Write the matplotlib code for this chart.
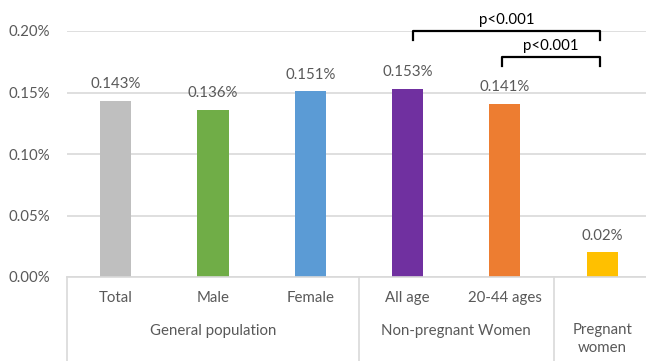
import matplotlib.pyplot as plt
import matplotlib.transforms as mtransforms

plt.rcParams['font.family'] = ['Lato', 'DejaVu Sans']

categories = ['Total', 'Male', 'Female', 'All age', '20-44 ages', '']
values = [0.143, 0.136, 0.151, 0.153, 0.141, 0.02]
labels = ['0.143%', '0.136%', '0.151%', '0.153%', '0.141%', '0.02%']
colors = ['#BFBFBF', '#70AD47', '#5B9BD5', '#7030A0', '#ED7D31', '#FFC000']
groups = ['General population', 'Non-pregnant Women', 'Pregnant\nwomen']
group_spans = [(0, 2), (3, 4), (5, 5)]
yticks = [0.0, 0.05, 0.10, 0.15, 0.20]
ytick_labels = ['0.00%', '0.05%', '0.10%', '0.15%', '0.20%']

txt = '#595959'
grid = '#D9D9D9'
fs = 10.8

fig = plt.figure(figsize=(6.46, 3.61), dpi=100)
ax = fig.add_axes([67 / 646, 84 / 361, 579 / 646, 246 / 361])

x = list(range(len(values)))
ax.bar(x, values, width=0.32, color=colors, zorder=2)
for xi, v, lab in zip(x, values, labels):
    ax.annotate(lab, (xi, v), xytext=(0, 7), textcoords='offset points',
                ha='center', va='bottom', fontsize=fs, color=txt)

ax.set_xlim(-0.5, 5.45)
ax.set_ylim(0, 0.2)
ax.set_yticks(yticks)
ax.set_yticklabels(ytick_labels, fontsize=fs, color=txt)
ax.tick_params(axis='y', length=0, pad=12)
ax.set_xticks([])
ax.yaxis.grid(True, color=grid, lw=1.2, zorder=0)
for s in ['top', 'right', 'left']:
    ax.spines[s].set_visible(False)
ax.spines['bottom'].set_color(grid)
ax.spines['bottom'].set_linewidth(1.2)

# multi-level category axis
trans = mtransforms.blended_transform_factory(ax.transData, fig.transFigure)
for xi, c in zip(x, categories):
    ax.text(xi, 1 - 298 / 361, c, transform=trans, ha='center', va='center',
            fontsize=fs, color=txt)
for g, (a, b) in zip(groups, group_spans):
    ypos = 1 - 339 / 361 if '\n' in g else 1 - 331 / 361
    ax.text((a + b) / 2, ypos, g, transform=trans, ha='center', va='center',
            fontsize=fs, color=txt, linespacing=1.4)
for sep in [-0.5, 2.5, 4.5]:
    ax.plot([sep, sep], [0, 1 - 277 / 361], transform=trans, color=grid,
            lw=1.2, clip_on=False)

# significance brackets
def bracket(x0, x1, y, label, h=0.0073):
    ax.plot([x0, x0, x1, x1], [y - h, y, y, y - h], color='black', lw=1.6,
            clip_on=False, zorder=3)
    ax.text((x0 + x1) / 2, y + 0.0035, label, ha='center', va='bottom',
            fontsize=fs, color='black')

bracket(3.06, 4.98, 0.2, 'p<0.001')
bracket(3.97, 4.98, 0.179, 'p<0.001')

fig.savefig('out.png', dpi=100)
